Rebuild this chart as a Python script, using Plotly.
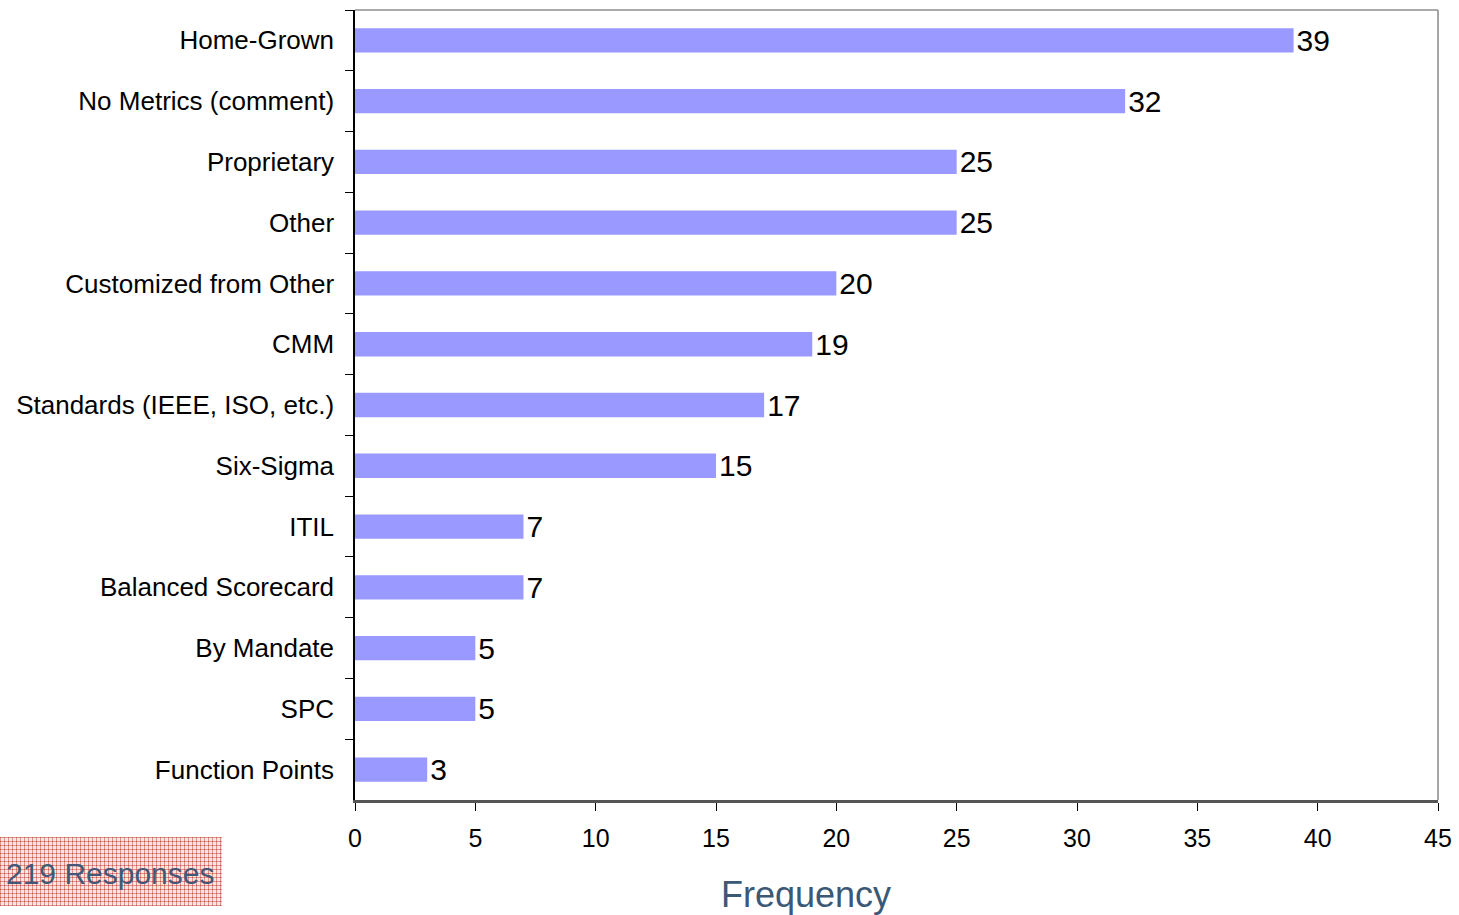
import base64
import struct
import zlib

import plotly.graph_objects as go

# Survey answers: which measurement approach is used
categories = [
    "Home-Grown",
    "No Metrics (comment)",
    "Proprietary",
    "Other",
    "Customized from Other",
    "CMM",
    "Standards (IEEE, ISO, etc.)",
    "Six-Sigma",
    "ITIL",
    "Balanced Scorecard",
    "By Mandate",
    "SPC",
    "Function Points",
]
frequency = [39, 32, 25, 25, 20, 19, 17, 15, 7, 7, 5, 5, 3]
x_ticks = [0, 5, 10, 15, 20, 25, 30, 35, 40, 45]

W, H = 1459, 915
FONT = "Liberation Sans, Arial, sans-serif"


def grid_png(w, h):
    """Small reddish cross-hatch tile used behind the response count."""
    rows = []
    for y in range(h):
        row = bytearray([0])
        for x in range(w):
            vx, vy = x % 4 == 0, y % 4 == 0
            if vx and vy:
                c = (196, 92, 80)
            elif vx or vy:
                c = (222, 146, 136)
            else:
                c = (248, 230, 226)
            row.extend(c)
        rows.append(bytes(row))
    raw = b"".join(rows)

    def chunk(tag, data):
        body = tag + data
        return struct.pack(">I", len(data)) + body + struct.pack(">I", zlib.crc32(body) & 0xFFFFFFFF)

    png = b"\x89PNG\r\n\x1a\n"
    png += chunk(b"IHDR", struct.pack(">IIBBBBB", w, h, 8, 2, 0, 0, 0))
    png += chunk(b"IDAT", zlib.compress(raw, 9))
    png += chunk(b"IEND", b"")
    return "data:image/png;base64," + base64.b64encode(png).decode()


# plot area in pixels
x0, x1 = 355, 1438
y_top, y_bot = 10, 800

fig = go.Figure(
    go.Bar(
        x=frequency,
        y=categories,
        orientation="h",
        width=0.4,
        marker=dict(color="#9999ff", line=dict(width=0)),
        text=[str(v) for v in frequency],
        textposition="outside",
        constraintext="none",
        textfont=dict(family=FONT, size=30, color="#000000"),
        cliponaxis=False,
        hoverinfo="x+y",
    )
)

fig.update_layout(
    width=W,
    height=H,
    margin=dict(l=0, r=0, t=0, b=0, autoexpand=False),
    paper_bgcolor="white",
    plot_bgcolor="white",
    showlegend=False,
    bargap=0.6,
    xaxis=dict(
        domain=[x0 / W, x1 / W],
        range=[0, 45],
        tickvals=x_ticks,
        ticktext=[str(t) for t in x_ticks],
        ticks="outside",
        ticklen=8,
        tickcolor="#000000",
        tickwidth=1,
        showline=True,
        linecolor="#555555",
        linewidth=3,
        showgrid=False,
        zeroline=False,
        automargin=False,
        tickfont=dict(family=FONT, size=25, color="#000000"),
        ticklabelstandoff=6,
    ),
    yaxis=dict(
        domain=[1 - y_bot / H, 1 - y_top / H],
        categoryorder="array",
        categoryarray=categories,
        autorange="reversed",
        tickson="boundaries",
        ticks="outside",
        ticklen=8,
        tickcolor="#000000",
        tickwidth=1,
        showline=True,
        linecolor="#000000",
        linewidth=1.5,
        showgrid=False,
        zeroline=False,
        automargin=False,
        tickfont=dict(family=FONT, size=26, color="#000000"),
        ticklabelstandoff=14,
    ),
    shapes=[
        dict(type="line", xref="x domain", yref="y domain", x0=0, x1=1, y0=1, y1=1,
             line=dict(color="#aaaaaa", width=2)),
        dict(type="line", xref="x domain", yref="y domain", x0=1, x1=1, y0=0, y1=1,
             line=dict(color="#888888", width=1.5)),
    ],
    images=[
        dict(
            source=grid_png(222, 69),
            xref="paper", yref="paper",
            x=0, y=1 - 837 / H,
            sizex=222 / W, sizey=69 / H,
            sizing="stretch",
            xanchor="left", yanchor="top",
            layer="below",
        )
    ],
    annotations=[
        dict(
            text="Frequency",
            xref="paper", yref="paper",
            x=806 / W, y=1 - 894 / H,
            xanchor="center", yanchor="middle",
            showarrow=False,
            font=dict(family=FONT, size=36, color="#3b5875"),
        ),
        dict(
            text="219 Responses",
            xref="paper", yref="paper",
            x=4 / W, y=1 - 873 / H,
            xanchor="left", yanchor="middle",
            showarrow=False,
            font=dict(family=FONT, size=30, color="#3d5a78"),
        ),
    ],
)

fig.write_html("out.html")
